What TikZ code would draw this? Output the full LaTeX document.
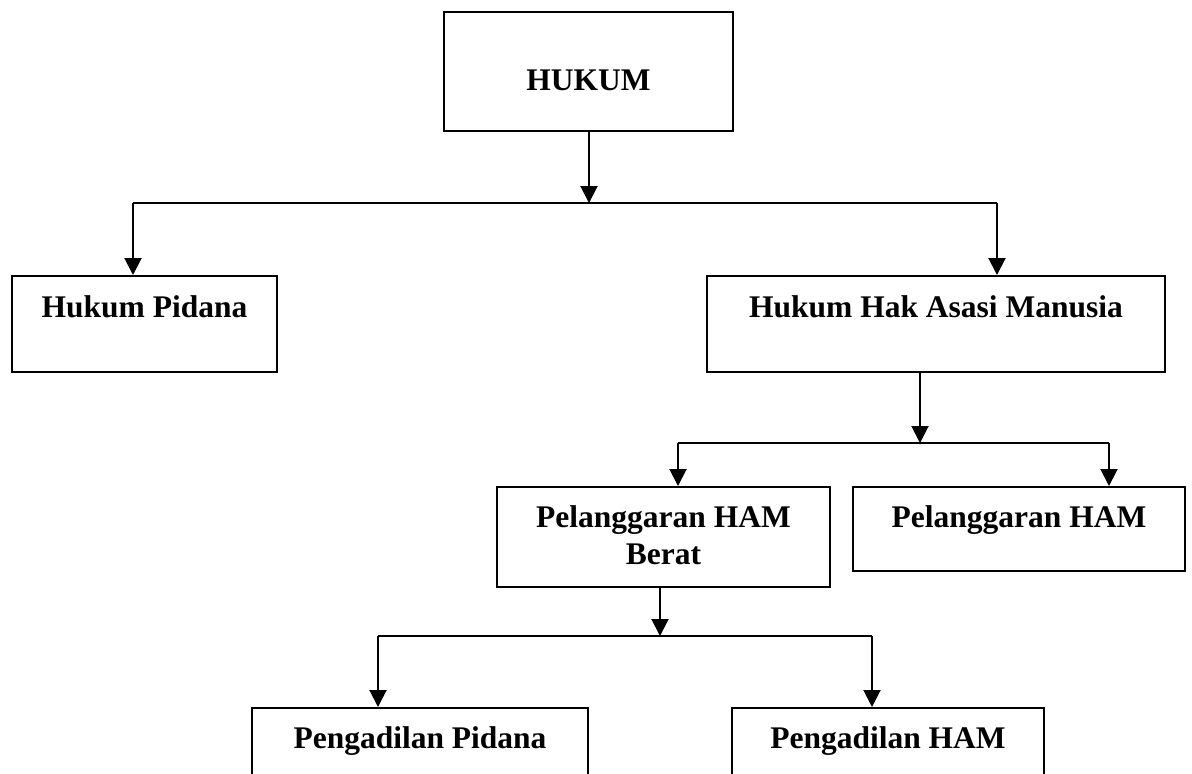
\documentclass[tikz,border=0pt]{standalone}
\usepackage{fontspec}
\setmainfont{Liberation Serif}
\usetikzlibrary{arrows.meta}
\tikzset{
  box/.style={draw=black, line width=2pt, rectangle, inner sep=0pt, fill=none},
  lbl/.style={anchor=base, inner sep=0pt, font=\bfseries\fontsize{31.5}{37}\selectfont},
  conn/.style={draw=black, line width=2pt},
  arr/.style={conn, -{Triangle[width=17pt,length=17pt]}}
}
\begin{document}
\begin{tikzpicture}[x=1pt, y=-1pt]
\useasboundingbox (0,0) rectangle (1192,774);
\clip (0,0) rectangle (1192,774);
\fill[white] (0,0) rectangle (1192,774);
% boxes
\node[box, minimum width=289pt, minimum height=119pt] (hukum) at (588.5,71.5) {};
\node[box, minimum width=265pt, minimum height=96pt] (hp) at (144.5,324) {};
\node[box, minimum width=458pt, minimum height=96pt] (hham) at (936,324) {};
\node[box, minimum width=333pt, minimum height=100pt] (phb) at (663.5,537) {};
\node[box, minimum width=332pt, minimum height=84pt] (ph) at (1019,529) {};
\node[box, minimum width=336pt, minimum height=92pt] (pp) at (420,754) {};
\node[box, minimum width=312pt, minimum height=92pt] (pham) at (888,754) {};
% labels
\node[lbl] (thukum) at (588.5,90) {HUKUM};
\node[lbl] (thp) at (144.5,317) {Hukum Pidana};
\node[lbl] (thham) at (936,317) {Hukum Hak Asasi Manusia};
\node[lbl] (tphba) at (663.5,527) {Pelanggaran HAM};
\node[lbl] (tphbb) at (663.5,564) {Berat};
\node[lbl] (tph) at (1019,527) {Pelanggaran HAM};
\node[lbl] (tpp) at (420,748) {Pengadilan Pidana};
\node[lbl] (tpham) at (888,748) {Pengadilan HAM};
% junction coordinates
\coordinate (j1) at (589,203);
\coordinate (j1l) at (133,203);
\coordinate (j1r) at (997,203);
\coordinate (j2) at (920,443);
\coordinate (j2l) at (678,443);
\coordinate (j2r) at (1109,443);
\coordinate (j3) at (660,636);
\coordinate (j3l) at (378,636);
\coordinate (j3r) at (872,636);
% connectors
\draw[arr] (j1 |- hukum.south) -- (j1);
\draw[conn] (j1l) -- (j1r);
\draw[arr] (j1l) -- (j1l |- hp.north);
\draw[arr] (j1r) -- (j1r |- hham.north);
\draw[arr] (j2 |- hham.south) -- (j2);
\draw[conn] (j2l) -- (j2r);
\draw[arr] (j2l) -- (j2l |- phb.north);
\draw[arr] (j2r) -- (j2r |- ph.north);
\draw[arr] (j3 |- phb.south) -- (j3);
\draw[conn] (j3l) -- (j3r);
\draw[arr] (j3l) -- (j3l |- pp.north);
\draw[arr] (j3r) -- (j3r |- pham.north);
\end{tikzpicture}
\end{document}
